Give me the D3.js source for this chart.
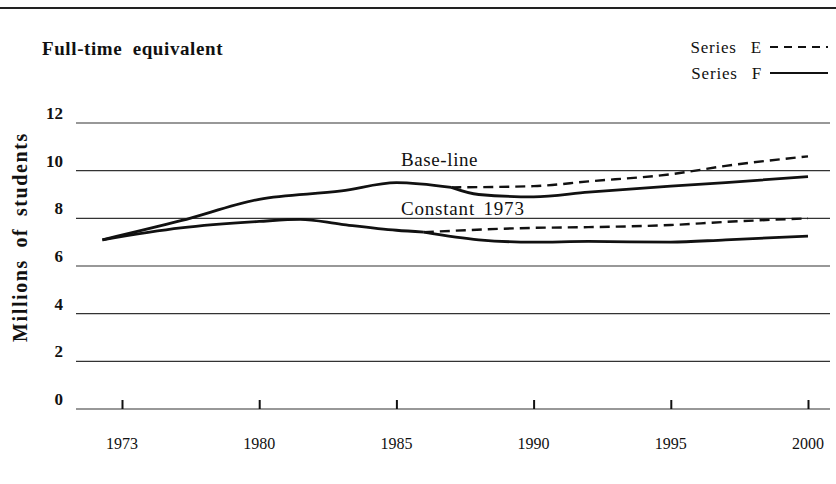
<!DOCTYPE html>
<html>
<head>
<meta charset="utf-8">
<script src="https://cdn.jsdelivr.net/npm/d3@7"></script>
<style>
  body { margin: 0; background: #fff; }
  svg { display: block; }
  .grid line { stroke: #333; stroke-width: 1.2; }
  .label { font-family: "Liberation Serif", "DejaVu Serif", serif; fill: #111; }
</style>
</head>
<body>
<div id="chart"></div>
<script>
// tick labels on the time axis (evenly spaced on the original)
const tickYears = [1973, 1980, 1985, 1990, 1995, 2000];
const yTicks = [0, 2, 4, 6, 8, 10, 12];

// Base-line projection, common part then the two series
const baseCommonYears = [1972, 1976, 1980, 1983, 1985, 1987];
const baseCommonVals = [7.1, 7.9, 8.8, 9.15, 9.5, 9.3];
const baseEYears = [1987, 1990, 1992, 1995, 1997, 2000];
const baseEVals = [9.3, 9.35, 9.55, 9.85, 10.2, 10.6];
const baseFYears = [1987, 1988, 1990, 1992, 1995, 1997, 2000];
const baseFVals = [9.3, 9.0, 8.9, 9.1, 9.35, 9.5, 9.75];

// Constant 1973 projection
const constCommonYears = [1972, 1976, 1980, 1981.5, 1983, 1985, 1986];
const constCommonVals = [7.1, 7.6, 7.87, 7.96, 7.75, 7.5, 7.42];
const constEYears = [1986, 1990, 1992, 1995, 1997, 2000];
const constEVals = [7.42, 7.6, 7.63, 7.72, 7.85, 8.0];
const constFYears = [1986, 1988, 1990, 1992, 1995, 1997, 2000];
const constFVals = [7.42, 7.1, 7.0, 7.03, 7.0, 7.1, 7.25];

const width = 836, height = 484;
const svg = d3.select('#chart').append('svg')
    .attr('width', width)
    .attr('height', height);

// the printed axis spaces its ticks evenly, so use a polylinear scale
const x = d3.scaleLinear()
    .domain(tickYears)
    .range(tickYears.map((d, i) => 122 + i * 137.2));
const y = d3.scaleLinear().domain([0, 12]).range([409, 123]);

const toPts = (xs, vs) => xs.map((d, i) => [d, vs[i]]);
const line = d3.line().x(d => x(d[0])).y(d => y(d[1])).curve(d3.curveMonotoneX);

// top rule
svg.append('line')
    .attr('x1', 0).attr('x2', width)
    .attr('y1', 8).attr('y2', 8)
    .attr('stroke', '#222').attr('stroke-width', 1.8);

// title
svg.append('text')
    .classed('label', true)
    .attr('x', 42).attr('y', 55)
    .attr('font-size', 19).attr('font-weight', 'bold')
    .attr('letter-spacing', 0.6).attr('word-spacing', 5)
    .text('Full-time equivalent');

// gridlines
const grid = svg.append('g').classed('grid', true);
grid.selectAll('line')
    .data(yTicks)
    .enter().append('line')
    .attr('x1', 76).attr('x2', 830)
    .attr('y1', d => y(d)).attr('y2', d => y(d));

svg.append('g').selectAll('text')
    .data(yTicks)
    .enter().append('text')
    .classed('label', true)
    .attr('x', 63).attr('y', d => y(d) - 4)
    .attr('text-anchor', 'end')
    .attr('font-size', 17).attr('font-weight', 'bold')
    .text(d => d);

// x axis ticks point upward from the zero line
const xAxis = d3.axisTop(x)
    .tickValues(tickYears)
    .tickSize(9)
    .tickFormat('');
const gx = svg.append('g')
    .attr('transform', `translate(0,${y(0)})`)
    .call(xAxis);
gx.select('.domain').remove();
gx.selectAll('.tick line').attr('stroke', '#111').attr('stroke-width', 2);

svg.append('g').selectAll('text')
    .data(tickYears)
    .enter().append('text')
    .classed('label', true)
    .attr('x', d => x(d)).attr('y', 449)
    .attr('text-anchor', 'middle')
    .attr('font-size', 16)
    .text(d => d);

// y axis title
svg.append('text')
    .classed('label', true)
    .attr('transform', 'translate(27,237) rotate(-90)')
    .attr('text-anchor', 'middle')
    .attr('font-size', 20).attr('font-weight', 'bold')
    .attr('letter-spacing', 1.6).attr('word-spacing', 5)
    .text('Millions of students');

// series
const solid = { stroke: '#111', width: 2.8, dash: null };
const dashed = { stroke: '#111', width: 2.4, dash: '10,6' };
const series = [
    [toPts(baseCommonYears, baseCommonVals), solid],
    [toPts(baseEYears, baseEVals), dashed],
    [toPts(baseFYears, baseFVals), solid],
    [toPts(constCommonYears, constCommonVals), solid],
    [toPts(constEYears, constEVals), dashed],
    [toPts(constFYears, constFVals), solid]
];
svg.append('g').selectAll('path')
    .data(series)
    .enter().append('path')
    .attr('d', d => line(d[0]))
    .attr('fill', 'none')
    .attr('stroke', d => d[1].stroke)
    .attr('stroke-width', d => d[1].width)
    .attr('stroke-dasharray', d => d[1].dash);

// in-chart labels
svg.append('text').classed('label', true)
    .attr('x', 401).attr('y', 166).attr('font-size', 19)
    .attr('letter-spacing', 0.6)
    .text('Base-line');
svg.append('text').classed('label', true)
    .attr('x', 401).attr('y', 215).attr('font-size', 19)
    .attr('letter-spacing', 0.8).attr('word-spacing', 3)
    .text('Constant 1973');

// legend
const legend = [['Series E', '8,6'], ['Series F', null]];
const lg = svg.append('g').selectAll('g')
    .data(legend)
    .enter().append('g')
    .attr('transform', (d, i) => `translate(0,${53 + i * 26})`);
lg.append('text').classed('label', true)
    .attr('x', 762).attr('text-anchor', 'end')
    .attr('font-size', 17).attr('letter-spacing', 0.8).attr('word-spacing', 9)
    .text(d => d[0]);
lg.append('line')
    .attr('x1', 770).attr('x2', 828)
    .attr('y1', -6).attr('y2', -6)
    .attr('stroke', '#111').attr('stroke-width', 2.2)
    .attr('stroke-dasharray', d => d[1]);
</script>
</body>
</html>
